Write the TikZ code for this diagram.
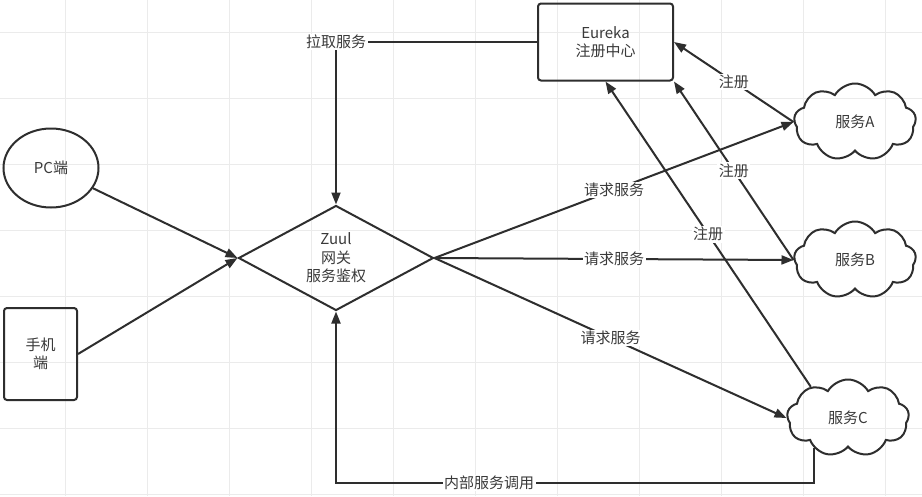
\documentclass[tikz,border=0pt]{standalone}
\usepackage{fontspec}
\usepackage{xcolor}
\usepackage{tikz}
\usetikzlibrary{shapes.geometric,shapes.symbols,arrows.meta}
\newfontfamily\cjk{Noto Sans CJK SC}
\definecolor{lineGray}{HTML}{2E2E2E}
\definecolor{textGray}{HTML}{3A3A3A}
\definecolor{gridGray}{HTML}{EBEBEB}
\tikzset{
  box/.style={draw=lineGray, line width=2pt, text=textGray, align=center, inner sep=0pt,
    font=\cjk\fontsize{15}{18.5}\selectfont},
  svc/.style={box, cloud, cloud puffs=9, cloud puff arc=120, aspect=1.7,
    minimum width=122pt, minimum height=77pt},
  arr/.style={draw=lineGray, line width=2pt, -{Triangle[length=12pt,width=9pt]}},
  lbl/.style={fill=white, text=textGray, inner sep=1.5pt, font=\cjk\fontsize{15}{18}\selectfont},
}

\begin{document}
\begin{tikzpicture}[x=1pt,y=-1pt]
\useasboundingbox (0,0) rectangle (922,496);
\fill[white] (0,0) rectangle (922,496);
\foreach \gx in {65,147,...,885} {
\draw[color=gridGray] (\gx,0)--(\gx,496);
}
\foreach \gy in {32,98,...,494} {
\draw[color=gridGray] (0,\gy)--(922,\gy);
}

% clients
\node[box, ellipse, minimum width=95pt, minimum height=79pt] (pc) at (51,168) {PC端};
\node[box, rectangle, rounded corners=3pt, minimum width=73pt, minimum height=92pt] (phone) at (40.5,354) {手机\\端};

% gateway and registry
\node[box, diamond, aspect=1.86, minimum width=195pt, minimum height=105pt] (zuul) at (336,258) {Zuul\\网关\\服务鉴权};
\node[box, rectangle, rounded corners=3pt, minimum width=135pt, minimum height=77pt] (eureka) at (605.5,42) {Eureka\\注册中心};

% services
\node[svc] (svcA) at (855,122) {服务A};
\node[svc] (svcB) at (855,260) {服务B};
\node[svc] (svcC) at (848,418) {服务C};

\coordinate (callbase) at (0,483);

\draw[arr] (eureka.west) -| node[lbl, pos=0.5] {拉取服务} (zuul.north);
\draw[arr] (pc) -- (zuul.west);
\draw[arr] (phone.east) -- (zuul.west);

\draw[arr] (zuul.east) -- node[lbl] {请求服务} (svcA.west);
\draw[arr] (zuul.east) -- node[lbl] {请求服务} (svcB.west);
\draw[arr] (zuul.east) -- node[lbl] {请求服务} (svcC.west);

\draw[arr] (svcA.west) -- node[lbl] {注册} (eureka.east);
\draw[arr] (svcB.west) -- node[lbl] {注册} (eureka.south east);
\draw[arr] (svcC.140) -- node[lbl] {注册} (eureka.south);

\draw[arr] (svcC.222) -- (svcC.222 |- callbase) -| node[lbl, pos=0.34] {内部服务调用} (zuul.south);

\end{tikzpicture}
\end{document}
